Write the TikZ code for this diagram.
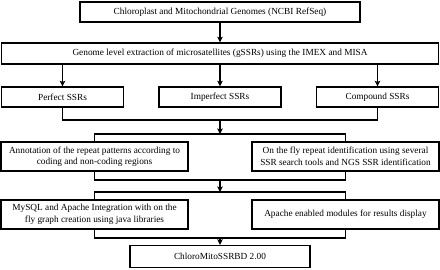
\documentclass[tikz,border=0pt]{standalone}
\usepackage{fontspec}
\setmainfont{Liberation Serif}
\usetikzlibrary{arrows.meta}
\newcommand{\twolines}[2]{\vbox{\baselineskip=11.5pt\hbox to 183pt{\hfil #1\hfil}\hbox to 183pt{\hfil #2\hfil}}}
\begin{document}
\begin{tikzpicture}[x=1pt,y=-1pt,
  box/.style={draw,line width=1.3pt,inner sep=0pt,font=\fontsize{9.3}{11.5}\selectfont},
  wbox/.style={box,minimum width=187pt,minimum height=29pt},
  conn/.style={line width=1.1pt},
  arr/.style={conn,-{Stealth[length=5.5pt,width=5.5pt,inset=1pt]}}]
\useasboundingbox (0,0) rectangle (440,270);
\node[box,minimum width=280pt,minimum height=20pt] (top) at (220,12) {Chloroplast and Mitochondrial Genomes (NCBI RefSeq)};
\node[box,minimum width=437pt,minimum height=21pt] (gen) at (220,53.5) {Genome level extraction of microsatellites (gSSRs) using the IMEX and MISA};
\node[box,minimum width=122pt,minimum height=20pt] (perf) at (62.5,97) {Perfect SSRs};
\node[box,minimum width=122pt,minimum height=20pt] (imp) at (220,97) {Imperfect SSRs};
\node[box,minimum width=122pt,minimum height=20pt] (comp) at (377.5,97) {Compound SSRs};
\node[wbox] (ann) at (94.5,156.5) {\twolines{Annotation of the repeat patterns according to}{coding and non-coding regions}};
\node[wbox] (fly) at (345.5,156.5) {\twolines{On the fly repeat identification using several}{SSR search tools and NGS SSR identification}};
\node[wbox] (sql) at (94.5,214.5) {\twolines{MySQL and Apache Integration with on the}{fly graph creation using java libraries}};
\node[wbox] (apa) at (345.5,214.5) {Apache enabled modules for results display};
\node[box,minimum width=180pt,minimum height=22pt] (fin) at (220,256.5) {ChloroMitoSSRBD 2.00};
\coordinate (j1) at (220,120);
\coordinate (s1) at (220,134);
\coordinate (j2) at (220,180);
\coordinate (s2) at (220,192);
\coordinate (j3) at (220,238);
\draw[arr] (top) -- (gen);
\draw[arr] (gen.south -| perf.north) -- (perf.north);
\draw[arr] (gen.south -| imp.north) -- (imp.north);
\draw[arr] (gen.south -| comp.north) -- (comp.north);
\draw[conn] (perf.south) |- (j1);
\draw[conn] (comp.south) |- (j1);
\draw[arr] (j1) -- (s1);
\draw[conn] (ann.north) |- (s1);
\draw[conn] (fly.north) |- (s1);
\draw[conn] (ann.south) |- (j2);
\draw[conn] (fly.south) |- (j2);
\draw[arr] (j2) -- (s2);
\draw[conn] (sql.north) |- (s2);
\draw[conn] (apa.north) |- (s2);
\draw[conn] (sql.south) |- (j3);
\draw[conn] (apa.south) |- (j3);
\draw[arr] (j3) -- (fin.north);
\end{tikzpicture}
\end{document}
